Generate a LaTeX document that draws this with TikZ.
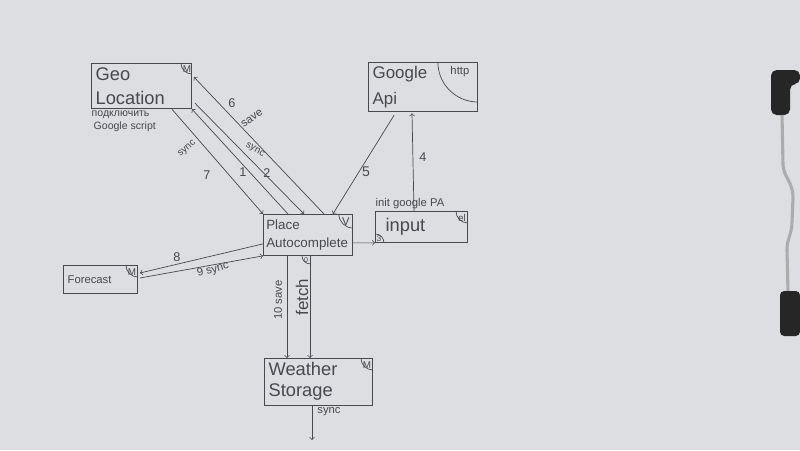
\documentclass[tikz,border=0pt]{standalone}
\usepackage{fontspec}
\setmainfont{Liberation Sans}
\usepackage{xcolor}
\usepackage{tikz}
\usetikzlibrary{calc}
\usetikzlibrary{positioning}
\definecolor{paper}{RGB}{220,222,225}
\definecolor{ink}{RGB}{72,72,78}

\begin{document}
\begin{tikzpicture}[x=0.025cm,y=-0.025cm,
		box/.style={draw=ink,line width=0.6pt,anchor=north west,inner sep=3pt,align=left,text=ink},
		corner/.style={draw=ink,line width=0.5pt},
		tag/.style={text=ink,font=\fontsize{7}{8}\selectfont,inner sep=0pt},
		lbl/.style={text=ink,font=\fontsize{9}{10}\selectfont,inner sep=1pt},
		wire/.style={draw=ink,line width=0.5pt,->}]
		\fill[paper] (0,0) rectangle (800,450);
		\useasboundingbox (0,0) rectangle (800,450);
		% boxes
		\node[box,minimum width=2.5cm,minimum height=1.1cm,text width=2.29cm,font=\fontsize{13}{17}\selectfont] (geo) at (91,63) {Geo\\Location};
		\node[box,minimum width=2.725cm,minimum height=1.2cm,text width=2.51cm,font=\fontsize{12}{18}\selectfont] (google) at (368,62) {Google\\Api};
		\node[box,inner sep=2pt,minimum width=2.225cm,minimum height=1.025cm,text width=2.08cm,font=\fontsize{9.5}{13}\selectfont] (place) at (263,214) {Place\\Autocomplete};
		\node[box,minimum width=2.3cm,minimum height=0.775cm,text width=2.09cm,font=\fontsize{13}{15}\selectfont] (input) at (375,211) {\hspace{0.15cm}\raisebox{-0.08cm}{input}};
		\node[box,minimum width=1.85cm,minimum height=0.7cm,text width=1.64cm,font=\fontsize{8}{9}\selectfont] (forecast) at (63,265) {Forecast};
		\node[box,minimum width=2.7cm,minimum height=1.1cm,text width=2.49cm,font=\fontsize{13}{15}\selectfont] (weather) at (264,358) {Weather\\Storage};
		% corner marks
		\draw[corner] ($(geo.north east)+(-11,0)$) arc[start angle=180,end angle=90,radius=11];
		\node[tag] (geom) at ($(geo.north east)+(-5,6)$) {M};
		\draw[corner] ($(google.north east)+(-40,0)$) arc[start angle=180,end angle=90,radius=40];
		\node[tag,font=\fontsize{8}{9}\selectfont] (googleh) at ($(google.north east)+(-18,10)$) {http};
		\draw[corner] ($(place.north east)+(-14,0)$) arc[start angle=180,end angle=90,radius=14];
		\node[tag,font=\fontsize{8}{9}\selectfont] (placev) at ($(place.north east)+(-7,8)$) {V};
		\draw[corner] ($(place.south west)+(39,0)$) arc[start angle=180,end angle=90,radius=8];
		\node[tag,font=\fontsize{5}{6}\selectfont] (placeo) at ($(place.south west)+(43,4)$) {0};
		\draw[corner] ($(input.north east)+(-12,0)$) arc[start angle=180,end angle=90,radius=12];
		\node[tag] (inputel) at ($(input.north east)+(-6,7)$) {el};
		\draw[corner] ($(input.south west)+(0,-9)$) arc[start angle=270,end angle=360,radius=9];
		\node[tag,font=\fontsize{6}{7}\selectfont] (inputt) at ($(input.south west)+(4,-4)$) {3};
		\draw[corner] ($(forecast.north east)+(-12,0)$) arc[start angle=180,end angle=90,radius=12];
		\node[tag] (forecastm) at ($(forecast.north east)+(-6,7)$) {M};
		\draw[corner] ($(weather.north east)+(-12,0)$) arc[start angle=180,end angle=90,radius=12];
		\node[tag] (weatherm) at ($(weather.north east)+(-6,7)$) {M};
		% note under geo
		\node[lbl,anchor=west,font=\fontsize{7.5}{8}\selectfont] (geonote1) at (90,115) {подключить};
		\node[lbl,anchor=west,font=\fontsize{7.5}{8}\selectfont] (geonote2) at (92,127) {Google script};
		% connectors
		\draw[wire] ($(geo.south east)+(-20,0)$) -- (place.north west);
		\draw[wire] ($(place.north west)+(25,0)$) -- (geo.south east);
		\draw[wire] ($(geo.south east)+(3,-6)$) -- ($(place.north west)+(41,0)$);
		\draw[wire] ($(place.north west)+(61,0)$) -- ($(geo.north east)+(2,14)$);
		\draw[wire] ($(google.south west)+(26,3)$) -- ($(place.north east)+(-20,0)$);
		\draw[wire] ($(input.north west)+(39,0)$) -- ($(google.south west)+(44,1)$);
		\draw[wire] ($(place.south east)+(0,-13)$) -- ($(input.south west)+(0,0)$);
		\draw[wire] ($(place.south west)+(0,-12)$) -- ($(forecast.north east)+(2,8)$);
		\draw[wire] ($(forecast.north east)+(2,13)$) -- (place.south west);
		\draw[wire] ($(place.south west)+(24,0)$) -- ($(weather.north west)+(23,0)$);
		\draw[wire] ($(place.south west)+(47,0)$) -- ($(weather.north west)+(46,0)$);
		\coordinate (out) at (312,440);
		\draw[wire] ($(weather.south west)+(48,0)$) -- (out);
		% labels
		\node[lbl] (l6) at (232,103) {6};
		\node[lbl,rotate=35,font=\fontsize{8}{9}\selectfont] (l6s) at (252,118) {save};
		\node[lbl,rotate=40,font=\fontsize{7}{8}\selectfont] (l7s) at (187,149) {sync};
		\node[lbl] (l7) at (207,175) {7};
		\node[lbl] (l1) at (243,172) {1};
		\node[lbl,rotate=-30,font=\fontsize{7}{8}\selectfont] (l2s) at (255,150) {sync};
		\node[lbl] (l2) at (267,173) {2};
		\node[lbl,font=\fontsize{10}{11}\selectfont] (l5) at (366,172) {5};
		\node[lbl] (l4) at (423,157) {4};
		\node[lbl,font=\fontsize{8}{9}\selectfont] (linit) at (410,204) {init google PA};
		\node[lbl] (l8) at (177,257) {8};
		\node[lbl,rotate=15,font=\fontsize{8}{9}\selectfont] (l9) at (213,270) {9 sync};
		\node[lbl,rotate=90,font=\fontsize{8}{9}\selectfont] (l10) at (278,300) {10 save};
		\node[lbl,rotate=90,font=\fontsize{12}{13}\selectfont] (lfetch) at (302,297) {fetch};
		\node[lbl,font=\fontsize{8}{9}\selectfont] (lsync) at (329,412) {sync};
		% binder clip
		\fill[black!85,rounded corners=4pt] (771,115) -- (771,70) -- (800,70) -- (800,84) -- (790,84) -- (790,115) -- cycle;
		\draw[gray!65,line width=2.2pt] (782,115) -- (783,165) .. controls (784,178) and (793,182) .. (793,198) -- (792,222) .. controls (792,234) and (787,238) .. (787,250) -- (788,292);
		\fill[black!85,rounded corners=3pt] (780,291) rectangle (800,336);
	\end{tikzpicture}
\end{document}
